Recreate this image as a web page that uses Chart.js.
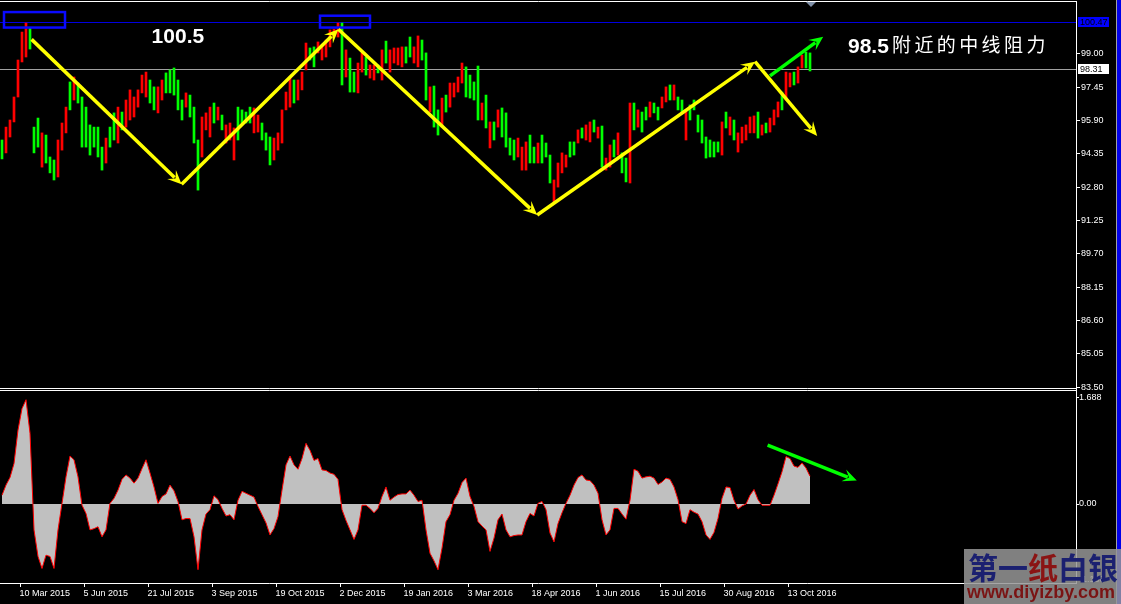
<!DOCTYPE html>
<html>
<head>
<meta charset="utf-8">
<script src="https://cdn.jsdelivr.net/npm/chart.js@4.4.0/dist/chart.umd.min.js"></script>
<style>
  html, body { margin: 0; padding: 0; background: #000; overflow: hidden; }
  #wrap { position: relative; width: 1121px; height: 604px; background: #000; }
  #main { position: absolute; left: 0; top: 0; }
  #sub { position: absolute; left: 0; top: 390px; }
  #edge { position: absolute; left: 1116px; top: 0; width: 5px; height: 604px; background: #0000e8; border-left: 1px solid #a0a0a0; box-sizing: border-box; }
  #wm { position: absolute; left: 964px; top: 549px; width: 157px; height: 55px; background: rgba(150,150,150,0.85); }
  #wm .cn { position: absolute; left: 4px; top: 0; font: bold 30px "Noto Sans CJK SC"; line-height: 34px; white-space: nowrap; }
  #wm .url { position: absolute; left: 3px; top: 33px; font: bold 18px "Liberation Sans"; line-height: 20px; color: #7a1414; white-space: nowrap; }
</style>
</head>
<body>
<div id="wrap">
  <canvas id="main" width="1121" height="390"></canvas>
  <canvas id="sub" width="1121" height="214"></canvas>
  <div id="edge"></div>
  <div id="wm"><div class="cn"><span style="color:#1b2070">第一</span><span style="color:#8a1414">纸</span><span style="color:#1b2070">白银</span></div><div class="url">www.diyizby.com</div></div>
</div>
<script>
// one entry per two trading days (4 px per slot on screen)
const highs = [
  95.00,95.60,95.93,97.00,98.72,100.02,100.44,100.21,95.60,96.02,
  95.33,95.23,94.21,94.07,95.00,95.79,96.53,97.70,97.93,97.65,
  97.00,96.53,95.70,95.60,95.60,94.67,95.09,95.60,96.26,96.53,
  96.30,96.86,97.33,97.00,97.33,98.02,98.16,97.79,97.47,97.47,
  97.79,98.12,98.26,98.35,97.79,96.86,97.19,97.09,96.53,95.00,
  96.07,96.26,96.53,96.72,96.53,96.16,95.70,95.79,95.56,96.53,
  96.40,96.30,96.53,96.49,96.16,95.79,95.33,95.14,95.09,95.33,
  96.40,97.23,97.93,97.79,97.79,98.16,99.51,99.28,99.33,99.56,
  99.42,99.65,100.12,100.16,100.44,100.44,99.19,98.81,98.16,98.58,
  99.05,98.86,98.49,98.49,98.49,99.19,99.60,99.19,99.28,99.28,
  99.33,99.33,99.79,99.33,99.84,99.65,99.05,97.47,97.51,96.40,
  96.95,97.09,97.65,97.65,97.93,98.58,98.40,98.02,97.70,98.44,
  96.72,97.09,95.84,95.84,96.40,96.49,96.26,95.09,95.00,95.09,
  94.67,94.91,95.23,94.67,94.86,95.23,94.86,94.30,93.14,93.93,
  94.40,94.30,94.91,94.91,95.47,95.56,95.70,95.84,95.93,95.60,
  95.65,94.16,94.77,95.00,95.33,94.40,94.16,96.72,96.72,96.40,
  96.30,96.53,96.77,96.72,96.53,97.00,97.47,97.56,97.56,97.00,
  96.86,96.40,96.63,96.86,96.16,95.93,95.14,95.00,94.91,94.91,
  95.84,96.30,96.07,95.93,95.33,95.60,95.70,96.07,96.12,96.30,
  95.70,95.79,96.02,96.40,96.77,97.23,98.16,98.12,98.16,98.40,
  98.95,99.09,99.05
];
const lows = [
  94.12,94.40,95.14,95.84,97.00,98.63,98.86,99.23,94.40,94.67,
  93.74,93.93,93.47,93.14,93.28,94.53,95.33,96.40,96.86,96.72,
  94.67,94.67,94.30,94.67,94.21,93.60,93.93,94.67,95.00,94.86,
  95.47,95.60,95.93,96.07,96.53,97.19,97.00,96.72,96.40,96.26,
  96.86,97.19,97.19,97.09,96.40,95.93,96.53,96.07,94.86,92.67,
  94.21,95.47,95.14,95.79,95.93,95.47,94.86,95.00,94.07,95.00,
  95.79,95.79,95.79,95.33,95.37,95.00,94.53,93.84,94.07,94.53,
  94.86,96.40,96.53,96.72,96.86,97.33,98.26,98.72,98.40,99.05,
  98.72,98.86,99.33,99.79,99.79,97.56,97.93,97.23,97.23,97.19,
  98.16,98.02,97.88,97.79,98.12,97.79,98.58,98.16,98.58,98.49,
  98.40,98.58,98.86,98.58,98.40,98.72,96.86,96.30,95.60,95.23,
  95.60,96.30,96.53,97.00,97.23,97.65,97.00,96.95,96.86,95.93,
  95.93,95.56,94.63,95.00,95.60,95.14,94.67,94.30,94.07,94.21,
  93.60,93.60,93.93,93.93,93.93,93.93,94.21,93.00,92.12,92.81,
  93.47,93.74,94.21,94.30,94.86,95.09,95.00,94.91,95.37,95.09,
  93.74,93.60,93.74,94.21,94.30,93.47,93.05,93.00,95.47,95.60,
  95.37,95.93,96.07,96.26,95.93,96.49,96.77,96.86,96.86,96.40,
  96.26,95.00,95.93,96.40,95.37,94.86,94.16,94.21,94.21,94.44,
  94.30,95.56,95.23,95.00,94.44,94.86,95.00,95.33,95.33,95.09,
  95.23,95.33,95.37,95.70,96.07,96.40,96.86,97.47,97.56,97.65,
  98.35,98.35,98.21
];
// u = bar closed up (green), d = closed down (red)
const dirs = ("udddd dduuu duuud ddudu uuuuu uduud udddd dduud duuuu uduuu " +
  "dddud udddu uuudd uuudd dddud dduud ddddd uduud duddu duddd " +
  "duudd uuduu duddd duuuu dudud uuuud dduud uuudd dduud uddud " +
  "uddud uudud uuduu ddudu uduuu uuuuu dudud ddddu duddd uddud duu").replace(/ /g, "");

const osc = [
  0.14,0.30,0.42,0.64,1.17,1.51,1.65,1.12,-0.41,-0.83,
  -1.02,-0.81,-0.83,-1.02,-0.41,0.01,0.43,0.76,0.70,0.43,
  -0.02,-0.15,-0.41,-0.39,-0.36,-0.52,-0.41,0.01,0.09,0.22,
  0.39,0.46,0.41,0.33,0.41,0.56,0.70,0.49,0.27,0.01,
  0.12,0.16,0.30,0.21,0.04,-0.25,-0.23,-0.23,-0.52,-1.04,
  -0.41,-0.16,-0.09,0.13,0.07,-0.07,-0.19,-0.17,-0.25,0.06,
  0.20,0.17,0.14,0.11,-0.04,-0.17,-0.30,-0.49,-0.39,-0.20,
  0.22,0.62,0.76,0.62,0.55,0.72,0.96,0.85,0.69,0.72,
  0.54,0.53,0.49,0.47,0.39,-0.09,-0.26,-0.41,-0.56,-0.41,
  -0.02,-0.02,-0.07,-0.14,-0.07,0.12,0.27,0.06,0.11,0.15,
  0.16,0.16,0.22,0.14,0.04,0.06,-0.41,-0.78,-0.90,-1.04,
  -0.70,-0.28,-0.17,0.06,0.17,0.34,0.41,0.12,-0.04,-0.28,
  -0.35,-0.41,-0.75,-0.54,-0.25,-0.16,-0.41,-0.52,-0.50,-0.49,
  -0.49,-0.28,-0.15,-0.19,0.01,0.04,-0.09,-0.46,-0.60,-0.31,
  -0.14,0.01,0.14,0.30,0.42,0.46,0.38,0.37,0.30,0.17,
  -0.25,-0.49,-0.41,-0.07,-0.07,-0.16,-0.24,0.06,0.55,0.52,
  0.41,0.43,0.44,0.41,0.31,0.35,0.41,0.39,0.27,0.07,
  -0.28,-0.31,-0.09,-0.13,-0.16,-0.28,-0.49,-0.56,-0.45,-0.23,
  0.09,0.27,0.26,0.06,-0.08,-0.03,0.00,0.14,0.23,0.07,
  -0.02,-0.02,-0.02,0.14,0.32,0.51,0.75,0.72,0.60,0.58,
  0.65,0.57,0.44
];

const dateLabels = ["10 Mar 2015","5 Jun 2015","21 Jul 2015","3 Sep 2015","19 Oct 2015","2 Dec 2015",
  "19 Jan 2016","3 Mar 2016","18 Apr 2016","1 Jun 2016","15 Jul 2016","30 Aug 2016","13 Oct 2016"];
const priceTicks = [83.50,85.05,86.60,88.15,89.70,91.25,92.80,94.35,95.90,97.45,99.00];
const oscTicks = [1.688, 0, -1.188];

const resistLevel = 100.47;
const lastPrice = 98.31;
// zigzag turning points [slot, price]
const zigzag = [[7.9,99.68],[45.4,92.94],[84.6,100.15],[134.3,91.51],[188.75,98.64],[204.3,95.19]];
const upArrow = [[192.5,97.98],[205.8,99.80]];
const oscArrow = [[191.9,0.93],[214.2,0.37]];
const topBoxes = [[1.0,100.95,16.25,100.23],[80,100.78,92.5,100.23]];

const SLOTS = 269;
const FIRST_TICK = 5.125, TICK_STEP = 16;
const AXIS_FONT = { family: "Liberation Sans", size: 9 };

function arrow(ctx, x1, y1, x2, y2, color, w, head) {
  const a = Math.atan2(y2 - y1, x2 - x1);
  const c = Math.cos(a), s = Math.sin(a);
  ctx.strokeStyle = color;
  ctx.lineWidth = w;
  ctx.beginPath();
  ctx.moveTo(x1, y1);
  ctx.lineTo(x2 - c * head * 0.7, y2 - s * head * 0.7);
  ctx.stroke();
  ctx.fillStyle = color;
  ctx.beginPath();
  ctx.moveTo(x2, y2);
  ctx.lineTo(x2 - c * head - s * head * 0.45, y2 - s * head + c * head * 0.45);
  ctx.lineTo(x2 - c * head * 0.6, y2 - s * head * 0.6);
  ctx.lineTo(x2 - c * head + s * head * 0.45, y2 - s * head - c * head * 0.45);
  ctx.closePath();
  ctx.fill();
}

const mainDeco = {
  id: "mainDeco",
  beforeDatasetsDraw(chart) {
    const { ctx, chartArea: a, scales: { y } } = chart;
    ctx.save();
    ctx.lineWidth = 1;
    ctx.strokeStyle = "#0000e0";
    let py = Math.round(y.getPixelForValue(resistLevel)) + 0.5;
    ctx.beginPath(); ctx.moveTo(a.left, py); ctx.lineTo(a.right, py); ctx.stroke();
    ctx.strokeStyle = "#a0a0a0";
    py = Math.round(y.getPixelForValue(lastPrice)) + 0.5;
    ctx.beginPath(); ctx.moveTo(a.left, py); ctx.lineTo(a.right, py); ctx.stroke();
    ctx.restore();
  },
  afterDraw(chart) {
    const { ctx, chartArea: a, scales: { x, y } } = chart;
    const P = (v, p) => [x.getPixelForValue(v), y.getPixelForValue(p)];
    ctx.save();
    // frame
    ctx.strokeStyle = "#fff"; ctx.lineWidth = 1;
    ctx.beginPath();
    ctx.moveTo(0, a.top + 0.5); ctx.lineTo(a.right + 1, a.top + 0.5);
    ctx.moveTo(0, a.bottom - 0.5); ctx.lineTo(a.right + 1, a.bottom - 0.5);
    ctx.stroke();
    // blue boxes at the two tops
    ctx.strokeStyle = "#0a0aff"; ctx.lineWidth = 2.5;
    topBoxes.forEach(b => {
      const [x1, y1] = P(b[0], b[1]), [x2, y2] = P(b[2], b[3]);
      ctx.strokeRect(x1, y1, x2 - x1, y2 - y1);
    });
    // yellow zigzag
    for (let i = 0; i < zigzag.length - 1; i++) {
      const [x1, y1] = P(...zigzag[i]), [x2, y2] = P(...zigzag[i + 1]);
      arrow(ctx, x1, y1, x2, y2, "#ffff00", 3.5, 14);
    }
    {
      const [x1, y1] = P(...upArrow[0]), [x2, y2] = P(...upArrow[1]);
      arrow(ctx, x1, y1, x2, y2, "#00ff00", 3.5, 14);
    }
    // texts
    ctx.fillStyle = "#fff";
    ctx.textBaseline = "alphabetic";
    ctx.font = "bold 21px 'Liberation Sans'";
    let [tx, ty] = P(37.9, 99.5);
    ctx.fillText("100.5", tx, ty);
    [tx, ty] = P(212, 99.03);
    ctx.fillText("98.5", tx, ty);
    ctx.font = "19px 'Noto Sans CJK SC'";
    const cn = "附近的中线阻力";
    for (let i = 0; i < cn.length; i++) ctx.fillText(cn[i], tx + 44 + i * 22.4, ty - 1);
    // chart shift marker
    const mx = x.getPixelForValue(202.75);
    ctx.fillStyle = "#8090a8";
    ctx.beginPath(); ctx.moveTo(mx - 5, 2); ctx.lineTo(mx + 5, 2); ctx.lineTo(mx, 7); ctx.closePath(); ctx.fill();
    // price labels on axis
    ctx.font = "9px 'Liberation Sans'";
    ctx.textBaseline = "middle";
    [[resistLevel, "#0000ff", "#000"], [lastPrice, "#ffffff", "#000"]].forEach(([v, bg, fg]) => {
      const py = Math.round(y.getPixelForValue(v));
      ctx.fillStyle = bg;
      ctx.fillRect(a.right + 2, py - 5, 31, 10);
      ctx.fillStyle = fg;
      ctx.fillText(v.toFixed(2), a.right + 4, py + 0.5);
    });
    ctx.restore();
  }
};

new Chart(document.getElementById("main"), {
  type: "bar",
  data: {
    datasets: [{
      data: highs.map((h, i) => ({ x: i + 0.5, y: [lows[i], h] })),
      backgroundColor: dirs.split("").map(d => d === "u" ? "#00ff00" : "#ff0000"),
      barThickness: 2,
      borderWidth: 0,
      grouped: false
    }]
  },
  options: {
    responsive: false,
    animation: false,
    devicePixelRatio: 1,
    layout: { padding: { top: 1, bottom: 1, left: 0, right: 0 } },
    plugins: { legend: { display: false }, tooltip: { enabled: false } },
    scales: {
      x: { type: "linear", min: 0, max: SLOTS, display: false, offset: false },
      y: {
        position: "right",
        min: 83.419,
        max: 101.465,
        afterBuildTicks: s => { s.ticks = priceTicks.map(v => ({ value: v })); },
        afterFit: s => { s.width = 45; s.paddingTop = 0; s.paddingBottom = 0; },
        grid: { drawOnChartArea: false, drawTicks: true, tickLength: 4, color: "#fff" },
        border: { display: true, color: "#fff" },
        ticks: { color: "#fff", padding: 1, font: AXIS_FONT, autoSkip: false, callback: v => v.toFixed(2) }
      }
    }
  },
  plugins: [mainDeco]
});

const subDeco = {
  id: "subDeco",
  afterDraw(chart) {
    const { ctx, chartArea: a, scales: { x, y } } = chart;
    ctx.save();
    ctx.strokeStyle = "#fff"; ctx.lineWidth = 1;
    ctx.beginPath(); ctx.moveTo(0, a.top + 0.5); ctx.lineTo(a.right + 1, a.top + 0.5); ctx.stroke();
    arrow(ctx, x.getPixelForValue(oscArrow[0][0]), y.getPixelForValue(oscArrow[0][1]),
      x.getPixelForValue(oscArrow[1][0]), y.getPixelForValue(oscArrow[1][1]), "#00ff00", 3.5, 14);
    ctx.restore();
  }
};

new Chart(document.getElementById("sub"), {
  type: "line",
  data: {
    datasets: [{
      data: osc.map((v, i) => ({ x: i + 0.5, y: v })),
      borderColor: "#ff0000",
      borderWidth: 1,
      backgroundColor: "#c0c0c0",
      fill: "origin",
      pointRadius: 0,
      tension: 0
    }]
  },
  options: {
    responsive: false,
    animation: false,
    devicePixelRatio: 1,
    layout: { padding: 0 },
    plugins: { legend: { display: false }, tooltip: { enabled: false } },
    scales: {
      x: {
        type: "linear", min: 0, max: SLOTS, position: "bottom", offset: false,
        afterBuildTicks: s => { s.ticks = dateLabels.map((_, k) => ({ value: FIRST_TICK + k * TICK_STEP })); },
        afterFit: s => { s.height = 21; s.paddingLeft = 0; s.paddingRight = 0; },
        grid: { drawOnChartArea: false, drawTicks: true, tickLength: 4, color: "#fff" },
        border: { display: true, color: "#fff" },
        ticks: { color: "#fff", align: "start", labelOffset: -1, maxRotation: 0, autoSkip: false, padding: 1,
                 font: AXIS_FONT, callback: (v, i) => dateLabels[i] }
      },
      y: {
        position: "right", min: -1.25, max: 1.804,
        afterBuildTicks: s => { s.ticks = oscTicks.map(v => ({ value: v })); },
        afterFit: s => { s.width = 45; s.paddingTop = 0; s.paddingBottom = 0; },
        grid: { drawOnChartArea: false, drawTicks: true, tickLength: 3, color: "#fff" },
        border: { display: true, color: "#fff" },
        ticks: { color: "#fff", padding: 0, font: AXIS_FONT, autoSkip: false,
                 callback: v => v === 0 ? "0.00" : v.toFixed(3) }
      }
    }
  },
  plugins: [subDeco]
});
</script>
</body>
</html>
